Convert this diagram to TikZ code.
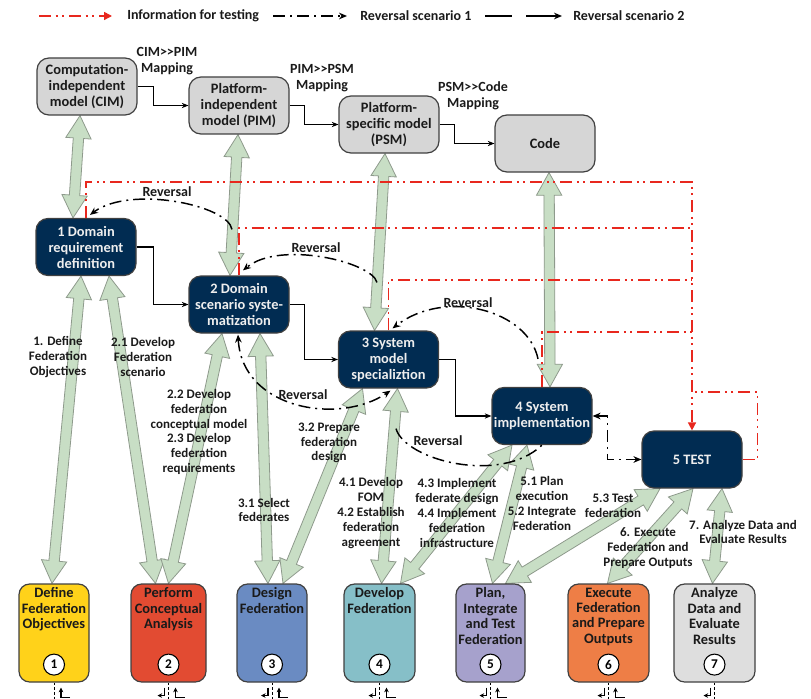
\documentclass[tikz,border=0pt]{standalone}
\usepackage{fontspec}
\setmainfont{Carlito}
\usetikzlibrary{calc,arrows.meta}
\pgfdeclarelayer{bg}
\pgfsetlayers{bg,main}
\definecolor{navy}{HTML}{012C52}
\definecolor{greyfill}{HTML}{D6D6D6}
\definecolor{nodetext}{HTML}{EEEEEE}
\definecolor{textdark}{HTML}{1A1A1A}
\definecolor{fatgreen}{HTML}{C8DEC5}
\definecolor{fatedge}{HTML}{8E9A8C}
\definecolor{infored}{HTML}{E8281E}
\definecolor{fedyellow}{HTML}{FFD21A}
\definecolor{fedred}{HTML}{E24B32}
\definecolor{fedblue}{HTML}{6A8BC2}
\definecolor{fedteal}{HTML}{86BFC8}
\definecolor{fedpurple}{HTML}{A6A1CC}
\definecolor{fedorange}{HTML}{EE7E46}
\definecolor{fedgrey}{HTML}{DEDEDE}
\tikzset{
  basefont/.style={font=\bfseries\fontsize{10.8}{12}\selectfont, align=center, inner sep=1pt},
  greynode/.style={basefont, draw=black!75, line width=0.9pt, fill=greyfill, rounded corners=9pt, minimum width=75pt, minimum height=42.75pt, text=textdark},
  darknode/.style={greynode, fill=navy, text=nodetext},
  fedbox/.style={draw=black!75, line width=0.9pt, rounded corners=8pt, minimum height=73.5pt, inner sep=0pt},
  boxtext/.style={font=\bfseries\fontsize{10.8}{11.6}\selectfont, align=center, inner sep=0pt, anchor=north, text=textdark},
  numcirc/.style={circle, draw=black, line width=0.8pt, fill=white, minimum size=15.75pt, inner sep=0pt, font=\bfseries\fontsize{10}{12}\selectfont},
  lbl/.style={font=\bfseries\fontsize{9.75}{11.1}\selectfont, align=center, inner sep=0pt, text=textdark},
  biglbl/.style={font=\bfseries\fontsize{10.5}{12}\selectfont, align=center, inner sep=0pt, text=textdark},
  legendtext/.style={font=\bfseries\fontsize{10.5}{12}\selectfont, inner sep=0pt, anchor=west, text=textdark},
  fatarr/.style={draw=fatedge, line width=0.6pt, fill=fatgreen, line join=miter},
  info/.style={draw=infored, line width=1.1pt, dash pattern=on 9pt off 3.5pt on 1.5pt off 3.5pt on 1.5pt off 3.5pt},
  infotip/.style={-{Triangle[length=6pt,width=6pt,fill=infored]}},
  rev/.style={draw=black, line width=1.1pt, dash pattern=on 9pt off 3.75pt on 1.5pt off 3.75pt, >={Stealth[length=6pt,width=5pt]}},
  conn/.style={draw=black, line width=0.8pt, -{Stealth[length=5pt,width=4pt]}},
  vdash/.style={draw=black, line width=0.6pt, dash pattern=on 2pt off 1.5pt},
  smallarr/.style={draw=black, line width=0.8pt, -{Stealth[length=3.5pt,width=3.5pt]}},
}
\newcommand{\fatarrow}[2]{%
  \coordinate (faA) at (#1);
  \coordinate (faB) at (#2);
  \coordinate (fahA) at ($(faA)!17pt!(faB)$);
  \coordinate (fahB) at ($(faB)!17pt!(faA)$);
  \draw[fatarr] (faA) -- ($(fahA)!9.5pt!90:(faB)$) -- ($(fahA)!3.9pt!90:(faB)$) -- ($(fahB)!3.9pt!-90:(faA)$) -- ($(fahB)!9.5pt!-90:(faA)$) -- (faB) -- ($(fahB)!9.5pt!90:(faA)$) -- ($(fahB)!3.9pt!90:(faA)$) -- ($(fahA)!3.9pt!-90:(faB)$) -- ($(fahA)!9.5pt!-90:(faB)$) -- cycle;}
\begin{document}
\begin{tikzpicture}[x=0.75pt,y=-0.75pt]
\useasboundingbox (0,0) rectangle (811,699);

% ---------- legend ----------
\coordinate (la1) at (39,16); \coordinate (lb1) at (112,16);
\draw[info,infotip] (la1) -- (lb1);
\node[legendtext] (lt1) at (127,16) {Information for testing};
\coordinate (la2) at (273,16); \coordinate (lb2) at (347,16);
\draw[rev,->] (la2) -- (lb2);
\node[legendtext] (lt2) at (360,16) {Reversal scenario 1};
\coordinate (la3) at (485,16); \coordinate (lb3) at (512,16);
\coordinate (la4) at (526,16); \coordinate (lb4) at (562,16);
\draw[black,line width=1.1pt] (la3) -- (lb3);
\draw[black,line width=1.1pt,-{Stealth[length=6pt,width=5pt]}] (la4) -- (lb4);
\node[legendtext] (lt3) at (573,16) {Reversal scenario 2};

% ---------- model nodes ----------
\node[greynode] (cim) at (87,86.5) {Computation-\\independent\\model (CIM)};
\node[greynode] (pim) at (239,105.5) {Platform-\\independent\\model (PIM)};
\node[greynode] (psm) at (389,124.5) {Platform-\\specific model\\(PSM)};
\node[greynode] (code) at (545,143.5) {Code};

\node[biglbl] (map1) at (167,61) {CIM>{}>PIM\\Mapping};
\node[biglbl] (map2) at (322,78) {PIM>{}>PSM\\Mapping};
\node[biglbl] (map3) at (473,96) {PSM>{}>Code\\Mapping};

% ---------- process nodes ----------
\node[darknode] (dom1) at (86,247) {1 Domain\\requirement\\definition};
\node[darknode] (dom2) at (239,304.5) {2 Domain\\scenario syste-\\matization};
\node[darknode] (dom3) at (388.5,359.5) {3 System\\model\\specializtion};
\node[darknode] (dom4) at (542,416) {4 System\\implementation};
\node[darknode] (test) at (692,459.5) {5 TEST};

% ---------- bottom boxes ----------
\node[fedbox, fill=fedyellow, minimum width=52.5pt] (box1) at (54,633) {};
\node[fedbox, fill=fedred, minimum width=56.25pt] (box2) at (168.5,633) {};
\node[fedbox, fill=fedblue, minimum width=52.5pt] (box3) at (272,633) {};
\node[fedbox, fill=fedteal, minimum width=53.25pt] (box4) at (379.5,633) {};
\node[fedbox, fill=fedpurple, minimum width=51.75pt] (box5) at (490.5,633) {};
\node[fedbox, fill=fedorange, minimum width=60.75pt] (box6) at (608.5,633) {};
\node[fedbox, fill=fedgrey, minimum width=60.75pt] (box7) at (714.5,633) {};

\node[boxtext] (bt1) at ($(box1.north)+(0,4)$) {Define\\Federation\\Objectives};
\node[boxtext] (bt2) at ($(box2.north)+(0,4)$) {Perform\\Conceptual\\Analysis};
\node[boxtext] (bt3) at ($(box3.north)+(0,4)$) {Design\\Federation};
\node[boxtext] (bt4) at ($(box4.north)+(0,4)$) {Develop\\Federation};
\node[boxtext] (bt5) at ($(box5.north)+(0,4)$) {Plan,\\Integrate\\and Test\\Federation};
\node[boxtext] (bt6) at ($(box6.north)+(0,4)$) {Execute\\Federation\\and Prepare\\Outputs};
\node[boxtext] (bt7) at ($(box7.north)+(0,4)$) {Analyze\\Data and\\Evaluate\\Results};

\foreach \i in {1,...,7} {
  \node[numcirc] (c\i) at ($(box\i.south)+(0,-18)$) {\i};
}

% ---------- fat double arrows ----------
\begin{pgfonlayer}{bg}
\fatarrow{$(cim.south)+(-7,0)$}{$(dom1.north)+(-13,0)$}
\fatarrow{$(pim.south)+(-1,0)$}{$(dom2.north)+(-9,0)$}
\fatarrow{$(psm.south)+(-4,0)$}{$(dom3.north)+(-14,0)$}
\fatarrow{$(code.south)+(4,0)$}{$(dom4.north)+(8,0)$}
\fatarrow{$(dom1.south)+(-5,0)$}{$(box1.north)+(-2,0)$}
\fatarrow{$(dom1.south)+(23,0)$}{$(box2.north)+(-13,0)$}
\fatarrow{$(dom2.south)+(-17,0)$}{$(box2.north)+(0,0)$}
\fatarrow{$(dom2.south)+(21,0)$}{$(box3.north)+(-4,0)$}
\fatarrow{$(dom3.south)+(-26,0)$}{$(box3.north)+(11,0)$}
\fatarrow{$(dom3.south)+(9,0)$}{$(box4.north)+(2,0)$}
\fatarrow{$(dom4.south)+(-30,0)$}{$(box4.north)+(21,0)$}
\fatarrow{$(dom4.south)+(-15,0)$}{$(box5.north)+(2,0)$}
\fatarrow{$(test.south)+(-32,0)$}{$(box5.north)+(15,0)$}
\fatarrow{$(test.south)+(1,0)$}{$(box6.north)+(-1,0)$}
\fatarrow{$(test.south)+(30,0)$}{$(box7.north)+(-2,0)$}
\end{pgfonlayer}

% ---------- solid connectors ----------
\draw[conn] (cim.east) -- ++(16,0) |- (pim.west);
\draw[conn] (pim.east) -- ++(15,0) |- (psm.west);
\draw[conn] (psm.east) -- ++(15,0) |- (code.west);
\draw[conn] (dom1.east) -- ++(17,0) |- (dom2.west);
\draw[conn] (dom2.east) -- ++(15,0) |- (dom3.west);
\draw[conn] (dom3.east) -- ++(16,0) |- (dom4.west);

% ---------- information for testing ----------
\coordinate (lv1) at (0,182);
\coordinate (lv2) at (0,228);
\coordinate (lv3) at (0,280);
\coordinate (lv4) at (0,332);
\coordinate (lv5) at (0,392);
\draw[info,infotip] (dom1.north) -- (dom1.north |- lv1) -- (test.north |- lv1) -- (test.north);
\draw[info] (dom2.north) -- (dom2.north |- lv2) -- (test.north |- lv2);
\draw[info] (dom3.north) -- (dom3.north |- lv3) -- (test.north |- lv3);
\draw[info] (dom4.north) -- (dom4.north |- lv4) -- (test.north |- lv4);
\draw[info] (test.east) -- ++(15,0) |- (test.north |- lv5);

% ---------- reversal scenario 1 ----------
\coordinate (r1s) at ($(dom2.north)+(-7,-46)$);
\coordinate (r2s) at ($(dom3.north)+(-11.5,-48)$);
\coordinate (r3s) at ($(dom4.north)+(-4,-28)$);
\coordinate (r5s) at ($(dom3.south)+(7.5,40)$);
\draw[rev,->] (r1s) .. controls (228,205) and (130,185) .. ($(dom1.north)+(4,-3)$);
\draw[rev,->] (r2s) .. controls (372,262) and (280,240) .. ($(dom2.north)+(4,-5)$);
\draw[rev,->] (r3s) .. controls (528,310) and (445,288) .. ($(dom3.north)+(4,-2)$);
\draw[rev,<->] ($(dom2.south)+(-1,1)$) .. controls (242,410) and (340,425) .. ($(dom3.south)+(2,2)$);
\draw[rev] (r5s) .. controls (405,460) and (500,485) .. (dom4.south);
\draw[rev,<->] (dom4.east) -- ++(15,0) |- (test.west);

\node[biglbl] (rv1) at (167,192) {Reversal};
\node[biglbl] (rv2) at (316,248) {Reversal};
\node[biglbl] (rv3) at (468,303) {Reversal};
\node[biglbl] (rv4) at (303,395) {Reversal};
\node[biglbl] (rv5) at (438,441) {Reversal};

% ---------- arrow labels ----------
\node[lbl] (lab1) at (58,357) {1. Define\\Federation\\Objectives};
\node[lbl] (lab2) at (143,357) {2.1 Develop\\Federation\\scenario};
\node[lbl] (lab3) at (199,432) {2.2 Develop\\federation\\conceptual model\\2.3 Develop\\federation\\requirements};
\node[lbl] (lab4) at (264,510) {3.1 Select\\federates};
\node[lbl] (lab5) at (329,443) {3.2 Prepare\\federation\\design};
\node[lbl] (lab6) at (371,513) {4.1 Develop\\FOM\\4.2 Establish\\federation\\agreement};
\node[lbl] (lab7) at (457,513) {4.3 Implement\\federate design\\4.4 Implement\\federation\\infrastructure};
\node[lbl] (lab8) at (542,503.5) {5.1 Plan\\execution\\5.2 Integrate\\Federation};
\node[lbl] (lab9) at (613,505.5) {5.3 Test\\federation};
\node[lbl] (lab10) at (648,548) {6. Execute\\Federation and\\Prepare Outputs};
\node[lbl] (lab11) at (743,532) {7. Analyze Data and\\Evaluate Results};

% ---------- continuation marks below boxes ----------
\coordinate (bottomedge) at (0,699);
\foreach \i in {1,...,7} {
  \draw[vdash] (box\i.south) -- (box\i.south |- bottomedge);
}
\foreach \i in {2,...,7} {
  \draw[smallarr] ($(box\i.south)+(-4,5)$) -- ++(0,8) -- ++(-7,0);
}
\foreach \i in {1,...,6} {
  \draw[smallarr] ($(box\i.south)+(16,15)$) -- ++(-9,0) -- ++(0,-10);
}
\end{tikzpicture}
\end{document}
